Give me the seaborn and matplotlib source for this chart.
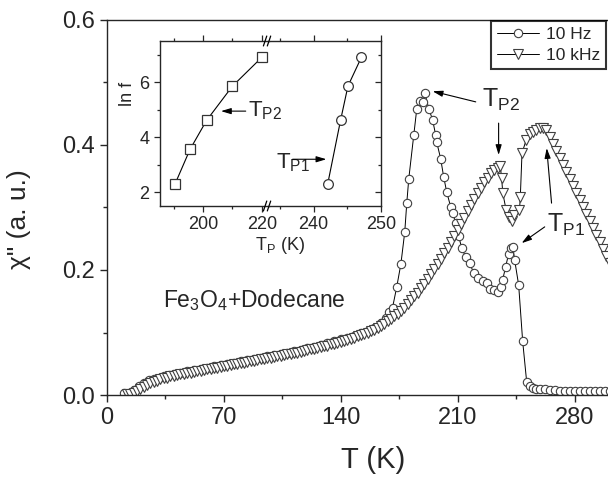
import numpy as np
import pandas as pd
import matplotlib
matplotlib.use("Agg")
import matplotlib.pyplot as plt
from matplotlib.ticker import MultipleLocator, FixedLocator
import seaborn as sns

# 10 Hz curve (circles)
t_10hz = [10, 13, 16, 19, 22, 25, 28, 31, 34, 37, 40, 44, 48, 52, 56, 60, 64, 68, 72, 76,
          80, 84, 88, 92, 96, 100, 104, 108, 112, 116, 120, 124, 128, 132, 136, 140, 144, 148,
          152, 156, 160, 164, 167, 169, 171, 173.5, 176, 178.3, 179.5, 180.7, 183.7, 185.5,
          187.3, 189, 190.3, 192.7, 195, 196.8, 197.4, 199.8, 201.6, 203.4, 205.8, 207, 208.8,
          210.5, 212.4, 214.8, 217.2, 219.6, 222, 224.9, 227.4, 229.2, 231.5, 233.9, 235.7,
          236.9, 238.7, 240.5, 241.8, 243, 244.1, 246.5, 248.9, 251.3, 253, 255, 257, 259, 262,
          265, 268, 271, 274, 277, 280, 283, 286, 289, 292, 295, 298, 301]
chi_10hz = [0.003, 0.004, 0.008, 0.015, 0.020, 0.024, 0.026, 0.028, 0.030, 0.032, 0.034,
            0.036, 0.038, 0.040, 0.042, 0.044, 0.046, 0.048, 0.050, 0.052, 0.054, 0.056, 0.058,
            0.060, 0.062, 0.064, 0.066, 0.068, 0.070, 0.072, 0.075, 0.077, 0.080, 0.083, 0.086,
            0.089, 0.092, 0.095, 0.099, 0.103, 0.108, 0.115, 0.124, 0.133, 0.140, 0.173, 0.210,
            0.261, 0.307, 0.346, 0.416, 0.458, 0.470, 0.469, 0.483, 0.458, 0.440, 0.416, 0.405,
            0.378, 0.349, 0.325, 0.301, 0.291, 0.275, 0.255, 0.235, 0.221, 0.211, 0.195, 0.187,
            0.182, 0.179, 0.170, 0.168, 0.165, 0.173, 0.184, 0.205, 0.226, 0.235, 0.237, 0.216,
            0.176, 0.086, 0.021, 0.014, 0.011, 0.010, 0.009, 0.009, 0.008, 0.008, 0.007, 0.007,
            0.007, 0.006, 0.006, 0.006, 0.006, 0.006, 0.006, 0.006, 0.006]

# 10 kHz curve (triangles)
t_10khz = [12, 14, 16, 18, 20, 22, 24, 26, 28, 30, 32, 34, 36, 38, 40, 42, 44, 46, 48, 50,
           52, 54, 56, 58, 60, 62, 64, 66, 68, 70, 72, 74, 76, 78, 80, 82, 84, 86, 88, 90,
           92, 94, 96, 98, 100, 102, 104, 106, 108, 110, 112, 114, 116, 118, 120, 122, 124,
           126, 128, 130, 132, 134, 136, 138, 140, 142, 144, 146, 148, 150, 152, 154, 156, 158,
           160, 162, 164, 166, 168, 170, 172, 174, 176, 178, 180, 182, 184, 186, 188, 190, 192,
           194, 196, 198, 200, 202, 204, 206, 208, 210, 212, 214, 216, 218, 220, 222, 224, 226,
           228, 230, 232, 234, 235.5, 236.3, 237, 239, 240.5, 242.3, 244, 247, 247.5, 248.5,
           251, 253, 255, 257, 259, 261, 263, 265, 267, 269, 271, 273, 275, 277, 279, 281, 283,
           285, 287, 289, 291, 293, 295, 297, 299, 301]
chi_10khz = [0.001, 0.002, 0.004, 0.007, 0.010, 0.013, 0.016, 0.019, 0.021, 0.023, 0.025,
             0.027, 0.028, 0.030, 0.031, 0.032, 0.033, 0.034, 0.035, 0.036, 0.037, 0.038, 0.039,
             0.040, 0.041, 0.042, 0.043, 0.044, 0.045, 0.046, 0.047, 0.048, 0.049, 0.050, 0.051,
             0.052, 0.053, 0.054, 0.055, 0.056, 0.057, 0.058, 0.059, 0.060, 0.061, 0.062, 0.063,
             0.064, 0.065, 0.066, 0.067, 0.068, 0.069, 0.070, 0.072, 0.073, 0.074, 0.075, 0.077,
             0.078, 0.079, 0.081, 0.082, 0.084, 0.085, 0.087, 0.088, 0.090, 0.092, 0.094, 0.096,
             0.098, 0.100, 0.102, 0.104, 0.107, 0.110, 0.114, 0.118, 0.122, 0.126, 0.130, 0.135,
             0.140, 0.146, 0.152, 0.158, 0.164, 0.171, 0.178, 0.185, 0.193, 0.201, 0.209, 0.218,
             0.227, 0.236, 0.245, 0.255, 0.264, 0.274, 0.284, 0.294, 0.304, 0.314, 0.323, 0.332,
             0.340, 0.348, 0.355, 0.360, 0.364, 0.366, 0.347, 0.323, 0.296, 0.285, 0.278, 0.288,
             0.296, 0.317, 0.387, 0.408, 0.418, 0.421, 0.424, 0.427, 0.428, 0.424, 0.413, 0.402,
             0.391, 0.380, 0.368, 0.357, 0.346, 0.334, 0.323, 0.312, 0.301, 0.290, 0.278, 0.267,
             0.256, 0.245, 0.233, 0.222, 0.211]

# inset: peak temperatures vs ln f
tp2 = [190.5, 195.6, 201.2, 210.0, 220.0]
lnf_tp2 = [2.30, 3.56, 4.61, 5.86, 6.91]
tp1 = [242.1, 244.0, 245.1, 247.1]
lnf_tp1 = [2.30, 4.61, 5.86, 6.91]

sns.set_style("ticks")
plt.rcParams["font.family"] = ["Liberation Sans", "DejaVu Sans"]
plt.rcParams["mathtext.fontset"] = "custom"
plt.rcParams["mathtext.rm"] = "Liberation Sans"
plt.rcParams["mathtext.default"] = "regular"

W, H = 608, 482
fig = plt.figure(figsize=(W / 100, H / 100), dpi=100)
ax = fig.add_axes([107 / W, 87 / H, 501 / W, 375 / H])

mk = dict(markerfacecolor="white", markeredgecolor="0.25", markeredgewidth=0.8,
          color="black", linewidth=0.7)
sns.lineplot(x=t_10hz, y=chi_10hz, ax=ax, marker="o", markersize=6, estimator=None,
             label="10 Hz", **mk)
sns.lineplot(x=t_10khz, y=chi_10khz, ax=ax, marker="v", markersize=7, estimator=None,
             label="10 kHz", **mk)

ax.set_xlim(0, 300)
ax.set_ylim(0, 0.6)
ax.xaxis.set_major_locator(MultipleLocator(70))
ax.xaxis.set_minor_locator(MultipleLocator(35))
ax.yaxis.set_major_locator(MultipleLocator(0.2))
ax.yaxis.set_minor_locator(MultipleLocator(0.1))
ax.yaxis.set_major_formatter(matplotlib.ticker.FormatStrFormatter("%.1f"))
ax.tick_params(which="major", direction="out", length=5, width=1, labelsize=17)
ax.tick_params(which="minor", direction="out", length=3, width=1)
for s in ["left", "bottom", "top"]:
    ax.spines[s].set_linewidth(1.0)
ax.spines["right"].set_visible(False)

ax.set_xlabel("T (K)", fontsize=21)
ax.xaxis.set_label_coords((373 - 107) / 501, -0.135)
ax.set_ylabel('χ" (a. u.)', fontsize=19)
ax.yaxis.set_label_coords(-0.152, 0.47)

leg = ax.legend(loc="upper right", bbox_to_anchor=(606 / W, 1 - 21 / H),
                bbox_transform=fig.transFigure, borderaxespad=0, fontsize=12.5,
                frameon=True, fancybox=False, handlelength=2.4, handletextpad=0.4,
                borderpad=0.35, labelspacing=0.3)
leg.get_frame().set_edgecolor("black")
leg.get_frame().set_linewidth(1.5)

ax.text(33.5, 0.152, "Fe$_3$O$_4$+Dodecane", fontsize=16.5, va="center", ha="left")

arr = dict(arrowstyle="-|>,head_length=0.6,head_width=0.18", color="black", lw=0.8,
           shrinkA=0, shrinkB=0)
ax.text(224.4, 0.472, "T$_{P2}$", fontsize=18, va="center", ha="left")
ax.annotate("", xy=(195.0, 0.486), xytext=(220.8, 0.469), arrowprops=arr)
ax.annotate("", xy=(234.5, 0.384), xytext=(234.5, 0.435), arrowprops=arr)
ax.text(263.5, 0.272, "T$_{P1}$", fontsize=18, va="center", ha="left")
ax.annotate("", xy=(248.3, 0.243), xytext=(262.1, 0.269), arrowprops=arr)
ax.annotate("", xy=(263.3, 0.395), xytext=(266.2, 0.307), arrowprops=arr)

# inset with broken x axis
y0, hh = (H - 206) / H, 165 / H
axl = fig.add_axes([160 / W, y0, 109 / W, hh])
axr = fig.add_axes([269 / W, y0, 112 / W, hh])
axr.set_facecolor("none")
imk = dict(markerfacecolor="white", markeredgecolor="0.2", markeredgewidth=0.9,
           color="black", linewidth=0.8)
sns.lineplot(x=tp2, y=lnf_tp2, ax=axl, marker="s", markersize=7, estimator=None, **imk)
sns.lineplot(x=tp1, y=lnf_tp1, ax=axr, marker="o", markersize=7, estimator=None, **imk)

axl.set_xlim(185.4, 222.4)
axr.set_xlim(233.4, 250)
for a in (axl, axr):
    a.set_ylim(1.5, 7.5)
    a.yaxis.set_major_locator(FixedLocator([2, 4, 6]))
    a.yaxis.set_minor_locator(FixedLocator([3, 5, 7]))
    a.tick_params(which="major", length=4, width=0.9, labelsize=13, top=True,
                  direction="out")
    a.tick_params(which="minor", length=2.5, width=0.9, top=True, direction="out")
    a.tick_params(axis="x", which="both", top=True)
    for s in a.spines.values():
        s.set_linewidth(1.0)
axl.xaxis.set_major_locator(FixedLocator([200, 220]))
axl.xaxis.set_minor_locator(FixedLocator([190, 210]))
axr.xaxis.set_major_locator(FixedLocator([240, 250]))
axr.xaxis.set_minor_locator(FixedLocator([235, 245]))
axl.spines["right"].set_visible(False)
axr.spines["left"].set_visible(False)
axr.tick_params(axis="y", which="both", left=False, labelleft=False, right=True,
                direction="in")
axl.set_ylabel("ln f", fontsize=13)
axl.yaxis.set_label_coords(-0.22, 0.68)
axl.set_xlabel("")
axr.set_xlabel("")
fig.text(280 / W, 1 - 246 / H, "T$_P$ (K)", fontsize=13, ha="center", va="center")

# break marks
for yy in (0, 1):
    for dx in (-0.035, 0.0):
        axr.plot([dx - 0.015, dx + 0.015], [yy - 0.03, yy + 0.03], transform=axr.transAxes,
                 color="black", lw=0.9, clip_on=False)

axl.text(215.2, 4.95, "T$_{P2}$", fontsize=16, va="center", ha="left")
axl.annotate("", xy=(206.1, 4.95), xytext=(214.5, 4.95), arrowprops=arr)
axr.text(234.4, 3.09, "T$_{P1}$", fontsize=16, va="center", ha="left")
axr.annotate("", xy=(241.9, 3.2), xytext=(236.9, 3.2), arrowprops=arr)

fig.savefig("out.png", dpi=100)
